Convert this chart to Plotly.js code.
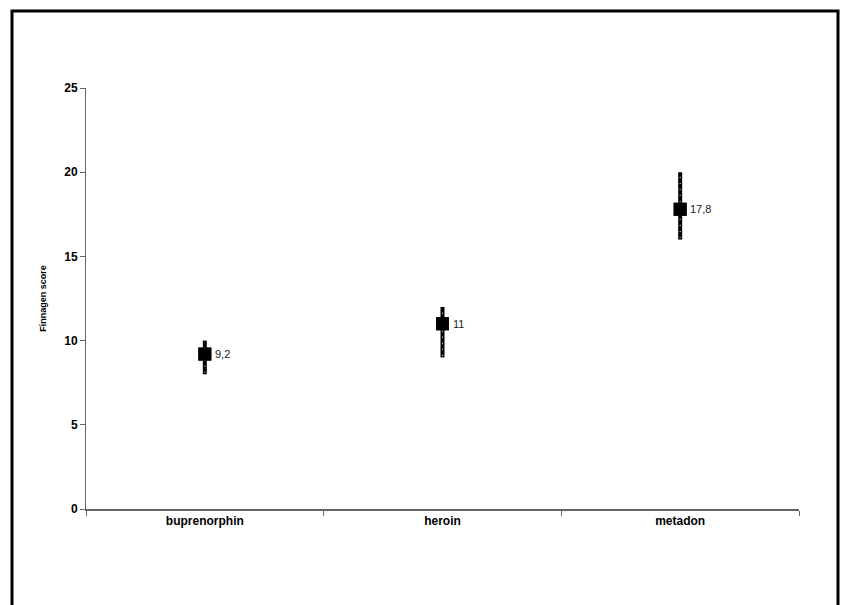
<!DOCTYPE html>
<html>
<head>
<meta charset="utf-8">
<script src="https://cdn.plot.ly/plotly-3.0.1.min.js"></script>
<style>html,body{margin:0;padding:0;background:#fff;}#chart{width:846px;height:605px;}</style>
</head>
<body>
<div id="chart"></div>
<script>
var categories = ["buprenorphin", "heroin", "metadon"];
var means = [9.2, 11, 17.8];
var lows = [8, 9, 16];
var highs = [10, 12, 20];
var yTicks = [0, 5, 10, 15, 20, 25];

var labels = means.map(function (v) { return String(v).replace('.', ','); });
var errPlus = means.map(function (m, i) { return highs[i] - m; });
var errMinus = means.map(function (m, i) { return m - lows[i]; });

var traces = [{
  type: 'scatter', mode: 'markers', x: categories, y: means,
  marker: { symbol: 'square', size: 13, color: '#000' },
  error_y: { type: 'data', symmetric: false, array: errPlus, arrayminus: errMinus,
             color: '#000', thickness: 4, width: 0 },
  hoverinfo: 'skip', showlegend: false
}];
// subtle white speckle texture over the error bars
categories.forEach(function (c, i) {
  traces.push({
    type: 'scatter', mode: 'lines', x: [c, c], y: [lows[i] + 0.1, highs[i] - 0.1],
    line: { color: '#fff', width: 1, dash: '1px,5px' }, hoverinfo: 'skip', showlegend: false
  });
});
traces.push({
  type: 'scatter', mode: 'markers', x: categories, y: means,
  marker: { symbol: 'square', size: 13, color: '#000' }, hoverinfo: 'skip', showlegend: false
});

var annotations = categories.map(function (c, i) {
  return { x: c, y: means[i], text: labels[i], showarrow: false, xanchor: 'left',
           yanchor: 'middle', xshift: 8, font: { family: 'Liberation Sans, Arial', size: 11, color: '#222' } };
});

var L = 86, R = 799, T = 88, B = 509;
function px(x) { return (x - L) / (R - L); }
function py(y) { return (B - y) / (B - T); }

var layout = {
  width: 846, height: 605,
  margin: { l: L, r: 846 - R, t: T, b: 605 - B },
  paper_bgcolor: '#fff', plot_bgcolor: '#fff',
  font: { family: 'Liberation Sans, Arial', color: '#000' },
  showlegend: false,
  xaxis: {
    type: 'category', categoryorder: 'array', categoryarray: categories,
    range: [-0.5, 2.5], showgrid: false, zeroline: false,
    showline: true, linecolor: '#666', linewidth: 2,
    ticks: 'outside', tickson: 'boundaries', ticklen: 5, tickcolor: '#666', tickwidth: 1,
    tickfont: { family: 'Liberation Sans, Arial', size: 12, color: '#000', weight: 'bold' }
  },
  yaxis: {
    range: [0, 25], tickvals: yTicks, showgrid: false, zeroline: false,
    showline: true, linecolor: '#666', linewidth: 1,
    ticks: 'outside', ticklen: 5, tickcolor: '#666', tickwidth: 1,
    tickfont: { family: 'Liberation Sans, Arial', size: 12, color: '#000', weight: 'bold' },
    title: { text: 'Finnagen score', standoff: 16,
             font: { family: 'Liberation Sans, Arial', size: 9, color: '#000', weight: 'bold' } }
  },
  annotations: annotations,
  shapes: [{
    type: 'path', xref: 'paper', yref: 'paper',
    path: 'M ' + px(12) + ',' + py(640) + ' L ' + px(12) + ',' + py(11) + ' L ' + px(838) + ',' + py(11) + ' L ' + px(838) + ',' + py(640),
    line: { color: '#000', width: 3 }
  }]
};

Plotly.newPlot('chart', traces, layout, { staticPlot: true, displayModeBar: false });
</script>
</body>
</html>
